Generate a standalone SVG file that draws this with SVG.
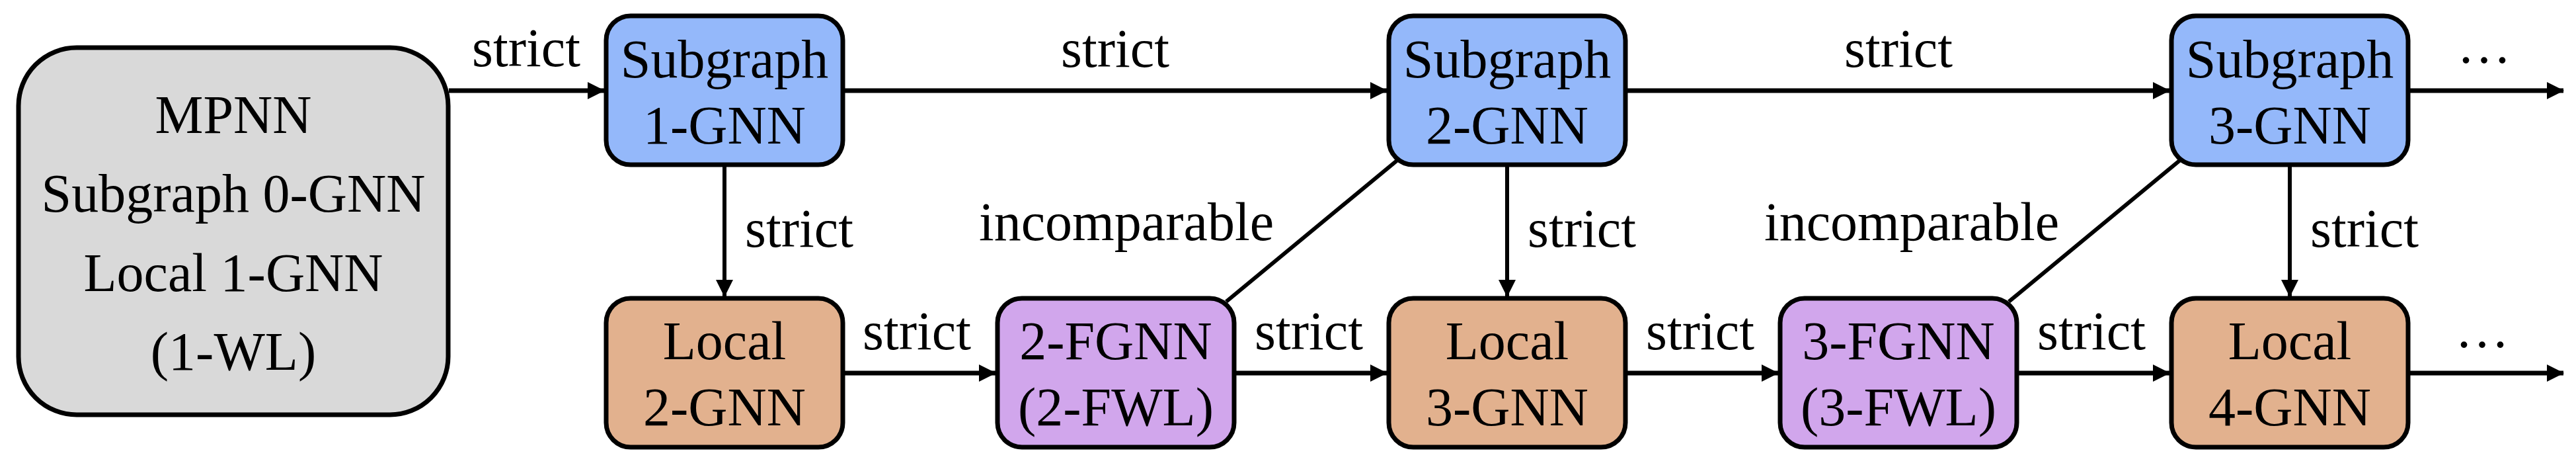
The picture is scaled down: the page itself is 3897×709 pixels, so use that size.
<svg xmlns="http://www.w3.org/2000/svg" width="3897" height="709" viewBox="0 0 3897 709">
<style>
  text { font-family: "Liberation Serif", "Times New Roman", serif; font-size: 82px; fill: #000; }
  .c { text-anchor: middle; }
  .box { stroke: #000; stroke-width: 7; }
  .gray { fill: #d9d9d9; }
  .blue { fill: #94b8fa; }
  .tan { fill: #e2b18e; }
  .purple { fill: #d1a6ec; }
  .edge { stroke: #000; stroke-width: 7; fill: none; }
  .thin { stroke-width: 6; }
  .arr { marker-end: url(#ah); }
</style>
<defs>
  <marker id="ah" markerUnits="userSpaceOnUse" markerWidth="26" markerHeight="26" viewBox="0 0 26 26" refX="25" refY="13" orient="auto">
    <path d="M0,0 L26,13 L0,26 z" fill="#000"/>
  </marker>
</defs>
<rect width="3897" height="709" fill="#fff"/>

<g id="connectors">
  <line class="edge arr" x1="679" y1="137" x2="914" y2="137"/>
  <line class="edge arr" x1="1278" y1="137" x2="2098" y2="137"/>
  <line class="edge arr" x1="2462" y1="137" x2="3282" y2="137"/>
  <line class="edge arr" x1="3646" y1="137" x2="3878" y2="137"/>
  <line class="edge thin arr" x1="1096" y1="252" x2="1096" y2="448"/>
  <line class="edge thin arr" x1="2280" y1="252" x2="2280" y2="448"/>
  <line class="edge thin arr" x1="3464" y1="252" x2="3464" y2="448"/>
  <line class="edge arr" x1="1278" y1="564" x2="1506" y2="564"/>
  <line class="edge arr" x1="1870" y1="564" x2="2098" y2="564"/>
  <line class="edge arr" x1="2462" y1="564" x2="2690" y2="564"/>
  <line class="edge arr" x1="3054" y1="564" x2="3282" y2="564"/>
  <line class="edge arr" x1="3646" y1="564" x2="3878" y2="564"/>
  <line class="edge thin" x1="1855" y1="456" x2="2113" y2="243"/>
  <line class="edge thin" x1="3039" y1="456" x2="3297" y2="243"/>
  <text class="c" x="796" y="100">strict</text>
  <text class="c" x="1687" y="101">strict</text>
  <text class="c" x="2872" y="101">strict</text>
  <text x="1127" y="373">strict</text>
  <text x="2311" y="373">strict</text>
  <text x="3495" y="373">strict</text>
  <text class="c" x="1387" y="528">strict</text>
  <text class="c" x="1980" y="528">strict</text>
  <text class="c" x="2572" y="528">strict</text>
  <text class="c" x="3164" y="528">strict</text>
  <text class="c" x="1704" y="363">incomparable</text>
  <text class="c" x="2892" y="363">incomparable</text>
  <text class="c" x="3758" y="95">…</text>
  <text class="c" x="3755" y="525">…</text>
</g>

<g id="mpnn">
  <rect class="box gray" x="28" y="72" width="650" height="555" rx="88" ry="88"/>
  <text class="c" x="353" y="201">MPNN</text>
  <text class="c" x="353" y="320">Subgraph 0-GNN</text>
  <text class="c" x="353" y="440">Local 1-GNN</text>
  <text class="c" x="353" y="559">(1-WL)</text>
</g>

<g id="subgraph1">
  <rect class="box blue" x="917" y="24" width="358" height="225" rx="37" ry="37"/>
  <text class="c" x="1096" y="117">Subgraph</text>
  <text class="c" x="1096" y="217">1-GNN</text>
</g>
<g id="subgraph2">
  <rect class="box blue" x="2101" y="24" width="358" height="225" rx="37" ry="37"/>
  <text class="c" x="2280" y="117">Subgraph</text>
  <text class="c" x="2280" y="217">2-GNN</text>
</g>
<g id="subgraph3">
  <rect class="box blue" x="3285" y="24" width="358" height="225" rx="37" ry="37"/>
  <text class="c" x="3464" y="117">Subgraph</text>
  <text class="c" x="3464" y="217">3-GNN</text>
</g>

<g id="local2">
  <rect class="box tan" x="917" y="451" width="358" height="225" rx="37" ry="37"/>
  <text class="c" x="1096" y="543">Local</text>
  <text class="c" x="1096" y="643">2-GNN</text>
</g>
<g id="fgnn2">
  <rect class="box purple" x="1509" y="451" width="358" height="225" rx="37" ry="37"/>
  <text class="c" x="1688" y="543">2-FGNN</text>
  <text class="c" x="1688" y="643">(2-FWL)</text>
</g>
<g id="local3">
  <rect class="box tan" x="2101" y="451" width="358" height="225" rx="37" ry="37"/>
  <text class="c" x="2280" y="543">Local</text>
  <text class="c" x="2280" y="643">3-GNN</text>
</g>
<g id="fgnn3">
  <rect class="box purple" x="2693" y="451" width="358" height="225" rx="37" ry="37"/>
  <text class="c" x="2872" y="543">3-FGNN</text>
  <text class="c" x="2872" y="643">(3-FWL)</text>
</g>
<g id="local4">
  <rect class="box tan" x="3285" y="451" width="358" height="225" rx="37" ry="37"/>
  <text class="c" x="3464" y="543">Local</text>
  <text class="c" x="3464" y="643">4-GNN</text>
</g>
</svg>
